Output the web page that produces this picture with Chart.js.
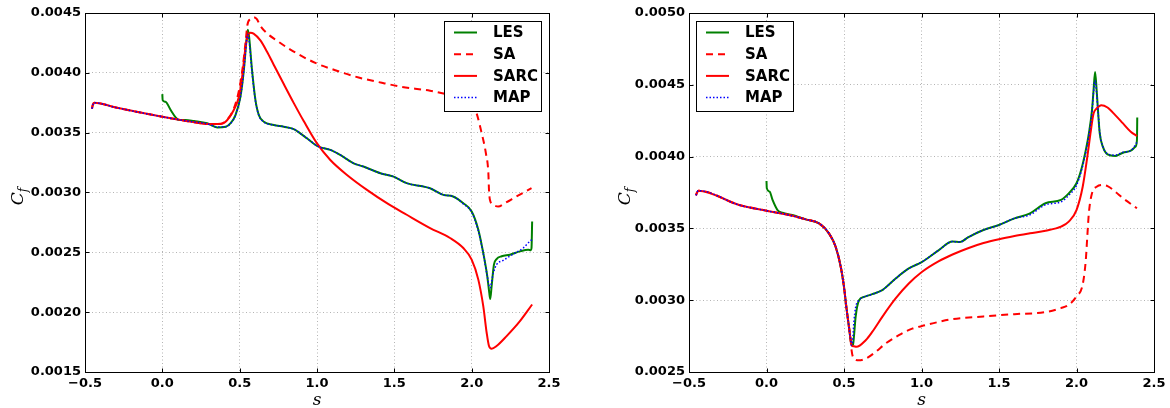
<!DOCTYPE html>
<html>
<head>
<meta charset="utf-8">
<script src="https://cdn.jsdelivr.net/npm/chart.js@4.4.0/dist/chart.umd.min.js"></script>
<style>
  body { margin: 0; background: #fff; }
  canvas.panel { position: absolute; top: 0; }
</style>
</head>
<body>
<canvas id="cfLeft" class="panel" width="585" height="408" style="left:0px"></canvas>
<canvas id="cfRight" class="panel" width="585" height="408" style="left:585px"></canvas>
<script>
// ---- tick positions ----
var sTicks = [-0.5, 0, 0.5, 1.0, 1.5, 2.0, 2.5];
var cfTicksLeft = [0.0015, 0.0020, 0.0025, 0.0030, 0.0035, 0.0040, 0.0045];
var cfTicksRight = [0.0025, 0.0030, 0.0035, 0.0040, 0.0045, 0.0050];

// ---- left case ----
var lesL_s  = [0, 0.002, 0.02, 0.054, 0.086, 0.107, 0.15, 0.204, 0.29, 0.355, 0.41, 0.44, 0.473, 0.505, 0.527, 0.544, 0.553, 0.561, 0.58, 0.602, 0.624, 0.656, 0.72, 0.785, 0.85, 0.892, 0.935, 1.01, 1.086, 1.15, 1.237, 1.3, 1.41, 1.495, 1.58, 1.688, 1.731, 1.817, 1.88, 1.946, 2.0, 2.043, 2.075, 2.101, 2.114, 2.12, 2.129, 2.144, 2.161, 2.194, 2.247, 2.312, 2.366, 2.383, 2.387, 2.391];
var lesL_cf = [0.003822, 0.003772, 0.003758, 0.003689, 0.003628, 0.003606, 0.003606, 0.003597, 0.003578, 0.003544, 0.00355, 0.003578, 0.003647, 0.0038, 0.004022, 0.004272, 0.004361, 0.0043, 0.004022, 0.003772, 0.003647, 0.003592, 0.003564, 0.00355, 0.00353, 0.003494, 0.003453, 0.003383, 0.003356, 0.003314, 0.003244, 0.003217, 0.003161, 0.003133, 0.003078, 0.00305, 0.003036, 0.00298, 0.002967, 0.002911, 0.002842, 0.002689, 0.002494, 0.0023, 0.002161, 0.002111, 0.002217, 0.002397, 0.002444, 0.002467, 0.00248, 0.002508, 0.002522, 0.002517, 0.002536, 0.002758];

var saL_s  = [-0.455, -0.45, -0.44, -0.3, -0.15, 0, 0.1, 0.2, 0.29, 0.376, 0.42, 0.462, 0.495, 0.52, 0.54, 0.55, 0.57, 0.59, 0.61, 0.634, 0.677, 0.738, 0.828, 0.989, 1.118, 1.269, 1.419, 1.548, 1.731, 1.9, 2.0, 2.032, 2.065, 2.092, 2.108, 2.112, 2.118, 2.14, 2.172, 2.215, 2.29, 2.387];
var saL_cf = [0.0037, 0.00373, 0.00375, 0.00371, 0.00367, 0.003633, 0.00361, 0.003588, 0.003572, 0.003575, 0.00361, 0.0037, 0.00385, 0.00405, 0.00428, 0.0044, 0.00445, 0.004465, 0.00445, 0.004392, 0.00433, 0.004272, 0.004194, 0.004083, 0.004022, 0.003961, 0.003917, 0.003883, 0.00385, 0.0038, 0.00375, 0.003661, 0.003494, 0.003328, 0.003161, 0.003022, 0.002939, 0.002897, 0.002883, 0.002911, 0.002967, 0.003036];

var sarcL_s  = [-0.455, -0.45, -0.44, -0.3, -0.15, 0, 0.1, 0.2, 0.29, 0.376, 0.42, 0.462, 0.495, 0.516, 0.538, 0.553, 0.57, 0.59, 0.634, 0.677, 0.72, 0.785, 0.85, 0.914, 1.0, 1.086, 1.194, 1.323, 1.452, 1.58, 1.731, 1.86, 1.946, 2.0, 2.043, 2.075, 2.097, 2.112, 2.129, 2.161, 2.226, 2.312, 2.391];
var sarcL_cf = [0.0037, 0.00373, 0.00375, 0.00371, 0.00367, 0.003633, 0.00361, 0.003588, 0.003572, 0.003572, 0.003606, 0.003689, 0.0038, 0.003967, 0.004217, 0.004314, 0.004336, 0.004328, 0.004271, 0.004176, 0.004068, 0.003906, 0.003747, 0.003597, 0.00341, 0.003272, 0.003147, 0.003022, 0.002911, 0.002814, 0.002703, 0.00262, 0.002536, 0.002439, 0.002272, 0.00205, 0.001828, 0.001717, 0.001694, 0.001717, 0.0018, 0.001925, 0.002064];

var mapL_s  = [-0.455, -0.45, -0.44, -0.3, -0.15, 0, 0.1, 0.2, 0.29, 0.355, 0.41, 0.44, 0.473, 0.505, 0.527, 0.544, 0.55, 0.558, 0.58, 0.602, 0.624, 0.656, 0.72, 0.785, 0.85, 0.892, 0.935, 1.01, 1.086, 1.15, 1.237, 1.3, 1.41, 1.495, 1.58, 1.688, 1.731, 1.817, 1.88, 1.946, 2.0, 2.043, 2.075, 2.101, 2.118, 2.14, 2.161, 2.204, 2.269, 2.333, 2.376, 2.39];
var mapL_cf = [0.0037, 0.00373, 0.00375, 0.00371, 0.00367, 0.003633, 0.00361, 0.00359, 0.003575, 0.003548, 0.00355, 0.003575, 0.003645, 0.0038, 0.00402, 0.00426, 0.00432, 0.0043, 0.004005, 0.003765, 0.003645, 0.00359, 0.003564, 0.00355, 0.00353, 0.003494, 0.003453, 0.003383, 0.003356, 0.003314, 0.003244, 0.003217, 0.003161, 0.003133, 0.003078, 0.00305, 0.003036, 0.00298, 0.002967, 0.002905, 0.002835, 0.00268, 0.00249, 0.0023, 0.002203, 0.002328, 0.002397, 0.002433, 0.002486, 0.002536, 0.002592, 0.002606];

// ---- right case ----
var lesR_s  = [0, 0.002, 0.02, 0.039, 0.071, 0.103, 0.167, 0.2, 0.253, 0.339, 0.403, 0.446, 0.479, 0.5, 0.515, 0.532, 0.543, 0.55, 0.558, 0.564, 0.575, 0.597, 0.629, 0.682, 0.747, 0.833, 0.918, 1.004, 1.112, 1.2, 1.25, 1.3, 1.4, 1.5, 1.6, 1.7, 1.8, 1.9, 1.95, 2.0, 2.03, 2.06, 2.08, 2.1, 2.11, 2.12, 2.13, 2.14, 2.15, 2.17, 2.2, 2.25, 2.3, 2.35, 2.38, 2.39, 2.392];
var lesR_cf = [0.00383, 0.003779, 0.003756, 0.003698, 0.003628, 0.003609, 0.003593, 0.003582, 0.003563, 0.003535, 0.003465, 0.003372, 0.003233, 0.003093, 0.002953, 0.002814, 0.002721, 0.002686, 0.00269, 0.002744, 0.002884, 0.003, 0.003023, 0.003042, 0.00307, 0.003151, 0.003221, 0.003267, 0.003349, 0.003408, 0.003405, 0.003438, 0.003489, 0.003524, 0.00357, 0.003605, 0.003675, 0.003698, 0.003744, 0.003814, 0.003906, 0.004045, 0.004161, 0.004323, 0.004462, 0.00459, 0.004462, 0.0043, 0.004161, 0.004069, 0.004015, 0.004004, 0.004027, 0.004041, 0.004069, 0.004115, 0.004273];

var saR_s  = [-0.455, -0.45, -0.44, -0.176, 0, 0.146, 0.253, 0.339, 0.403, 0.446, 0.479, 0.5, 0.515, 0.532, 0.543, 0.549, 0.558, 0.597, 0.64, 0.704, 0.768, 0.854, 0.94, 1.026, 1.112, 1.2, 1.4, 1.6, 1.8, 1.9, 1.95, 2.0, 2.04, 2.06, 2.07, 2.08, 2.1, 2.13, 2.17, 2.2, 2.25, 2.3, 2.39];
var saR_cf = [0.00373, 0.003745, 0.003763, 0.003663, 0.003623, 0.003593, 0.003563, 0.003535, 0.003465, 0.003372, 0.003233, 0.003093, 0.002953, 0.002814, 0.002721, 0.00265, 0.002605, 0.002581, 0.002593, 0.00264, 0.002698, 0.002756, 0.002802, 0.002826, 0.002849, 0.002868, 0.002887, 0.002903, 0.002917, 0.002945, 0.002968, 0.003026, 0.00311, 0.00328, 0.00345, 0.00361, 0.003744, 0.00379, 0.003802, 0.003795, 0.003756, 0.00371, 0.00364];

var sarcR_s  = [-0.455, -0.45, -0.44, -0.176, 0, 0.146, 0.253, 0.339, 0.403, 0.446, 0.479, 0.5, 0.515, 0.532, 0.543, 0.549, 0.564, 0.58, 0.64, 0.682, 0.747, 0.833, 0.918, 1.004, 1.112, 1.2, 1.3, 1.4, 1.5, 1.6, 1.7, 1.8, 1.9, 1.95, 2.0, 2.04, 2.07, 2.09, 2.11, 2.13, 2.16, 2.2, 2.25, 2.3, 2.35, 2.39];
var sarcR_cf = [0.00373, 0.003745, 0.003763, 0.003663, 0.003623, 0.003593, 0.003563, 0.003535, 0.003465, 0.003372, 0.003233, 0.003093, 0.002953, 0.002814, 0.002721, 0.002686, 0.002679, 0.002675, 0.002721, 0.002779, 0.002884, 0.003012, 0.003116, 0.003198, 0.003272, 0.003318, 0.003362, 0.003398, 0.003425, 0.003447, 0.003466, 0.003484, 0.003512, 0.003547, 0.003628, 0.00379, 0.004, 0.004161, 0.0043, 0.004335, 0.004358, 0.004342, 0.004289, 0.004231, 0.004173, 0.004143];

var mapR_s  = [-0.455, -0.45, -0.44, -0.176, 0, 0.146, 0.253, 0.339, 0.403, 0.446, 0.479, 0.5, 0.515, 0.532, 0.543, 0.549, 0.556, 0.564, 0.575, 0.597, 0.629, 0.682, 0.747, 0.833, 0.918, 1.004, 1.112, 1.2, 1.25, 1.3, 1.4, 1.5, 1.6, 1.7, 1.8, 1.9, 1.95, 2.0, 2.03, 2.06, 2.08, 2.1, 2.11, 2.12, 2.13, 2.14, 2.15, 2.17, 2.2, 2.25, 2.3, 2.35, 2.39];
var mapR_cf = [0.00373, 0.003745, 0.003763, 0.003663, 0.003623, 0.003593, 0.003563, 0.003535, 0.003465, 0.003372, 0.003233, 0.003093, 0.002953, 0.002814, 0.002721, 0.002686, 0.00272, 0.00285, 0.00295, 0.003, 0.003023, 0.003042, 0.00307, 0.003151, 0.003221, 0.003267, 0.003349, 0.003408, 0.003405, 0.003438, 0.003489, 0.003524, 0.00357, 0.003595, 0.003665, 0.003685, 0.00373, 0.0038, 0.003895, 0.00403, 0.00415, 0.00431, 0.00445, 0.00453, 0.00444, 0.0043, 0.00417, 0.00407, 0.00402, 0.00401, 0.00403, 0.00404, 0.0041];

var seriesNames = ['LES', 'SA', 'SARC', 'MAP'];

function pts(xs, ys) {
  return xs.map(function(x, i) { return { x: x, y: ys[i] }; });
}

function lineSet(label, xs, ys, color, width, dash, order) {
  return {
    label: label,
    data: pts(xs, ys),
    borderColor: color,
    borderWidth: width,
    borderDash: dash,
    pointRadius: 0,
    fill: false,
    cubicInterpolationMode: 'monotone',
    order: order
  };
}

// box, inward ticks, axis titles and the boxed legend
var axesFrame = {
  id: 'axesFrame',
  afterDraw: function(chart, args, opts) {
    var ctx = chart.ctx, a = chart.chartArea;
    var xs = chart.scales.x, ys = chart.scales.y;
    var L = Math.round(a.left) + 0.5, R = Math.round(a.right) + 0.5;
    var T = Math.round(a.top) + 0.5, B = Math.round(a.bottom) + 0.5;
    ctx.save();
    ctx.strokeStyle = '#000';
    ctx.lineWidth = 1;
    ctx.setLineDash([]);
    ctx.beginPath();
    xs.ticks.forEach(function(t) {
      var px = Math.round(xs.getPixelForValue(t.value)) + 0.5;
      ctx.moveTo(px, B); ctx.lineTo(px, B - 4);
      ctx.moveTo(px, T); ctx.lineTo(px, T + 4);
    });
    ys.ticks.forEach(function(t) {
      var py = Math.round(ys.getPixelForValue(t.value)) + 0.5;
      ctx.moveTo(L, py); ctx.lineTo(L + 4, py);
      ctx.moveTo(R, py); ctx.lineTo(R - 4, py);
    });
    ctx.stroke();
    ctx.strokeRect(L, T, R - L, B - T);

    // x title
    ctx.fillStyle = '#000';
    ctx.font = 'italic 17px "DejaVu Serif"';
    ctx.textAlign = 'center';
    ctx.textBaseline = 'alphabetic';
    ctx.fillText('s', (a.left + a.right) / 2, 405);

    // y title C_f
    ctx.save();
    ctx.translate(opts.yTitleX, (a.top + a.bottom) / 2 + 4);
    ctx.rotate(-Math.PI / 2);
    ctx.font = 'italic 17px "DejaVu Serif"';
    var wc = ctx.measureText('C').width;
    ctx.font = 'italic 12px "DejaVu Serif"';
    var wf = ctx.measureText('f').width;
    var x0 = -(wc + wf) / 2;
    ctx.textAlign = 'left';
    ctx.font = 'italic 17px "DejaVu Serif"';
    ctx.fillText('C', x0, 6);
    ctx.font = 'italic 12px "DejaVu Serif"';
    ctx.fillText('f', x0 + wc, 10);
    ctx.restore();

    // legend
    var lg = opts.legend;
    ctx.fillStyle = '#fff';
    ctx.fillRect(lg.x, lg.y, lg.w, lg.h);
    ctx.strokeStyle = '#000';
    ctx.lineWidth = 1;
    ctx.strokeRect(lg.x + 0.5, lg.y + 0.5, lg.w, lg.h);
    ctx.font = 'bold 15px "DejaVu Sans"';
    ctx.textAlign = 'left';
    ctx.textBaseline = 'middle';
    chart.data.datasets.forEach(function(ds, i) {
      var ry = lg.y + 11.5 + i * 21.7;
      ctx.beginPath();
      ctx.strokeStyle = ds.borderColor;
      ctx.lineWidth = ds.borderWidth;
      ctx.setLineDash(ds.borderDash || []);
      ctx.moveTo(lg.x + 10, ry);
      ctx.lineTo(lg.x + 33, ry);
      ctx.stroke();
      ctx.setLineDash([]);
      ctx.fillStyle = '#000';
      ctx.fillText(ds.label, lg.x + 49, ry + 1);
    });
    ctx.restore();
  }
};

function buildChart(id, datasets, yTicks, yMin, yMax, axisWidth, padRight, legendBox, yTitleX) {
  var tickFont = { family: 'DejaVu Sans', size: 13, weight: 'bold' };
  return new Chart(document.getElementById(id), {
    type: 'line',
    data: { datasets: datasets },
    options: {
      responsive: false,
      animation: false,
      devicePixelRatio: 1,
      layout: { padding: { left: 0, right: padRight, top: 13, bottom: 0 } },
      plugins: {
        legend: { display: false },
        tooltip: { enabled: false },
        axesFrame: { legend: legendBox, yTitleX: yTitleX }
      },
      scales: {
        x: {
          type: 'linear',
          min: -0.5, max: 2.5,
          afterBuildTicks: function(s) { s.ticks = sTicks.map(function(v) { return { value: v }; }); },
          afterFit: function(s) { s.height = 36; },
          grid: { color: '#b4b4b4', lineWidth: 1, drawTicks: false },
          border: { display: false, dash: [1, 2.5] },
          ticks: {
            color: '#000', font: tickFont, padding: 4, maxRotation: 0, autoSkip: false,
            callback: function(v) { return v.toFixed(1).replace('-', '\u2212'); }
          }
        },
        y: {
          type: 'linear',
          min: yMin, max: yMax,
          afterBuildTicks: function(s) { s.ticks = yTicks.map(function(v) { return { value: v }; }); },
          afterFit: function(s) { s.width = axisWidth; },
          grid: { color: '#b4b4b4', lineWidth: 1, drawTicks: false },
          border: { display: false, dash: [1, 2.5] },
          ticks: {
            color: '#000', font: tickFont, padding: 4, autoSkip: false,
            callback: function(v) { return v.toFixed(4); }
          }
        }
      }
    },
    plugins: [axesFrame]
  });
}

function caseSets(les, sa, sarc, map) {
  return [
    lineSet(seriesNames[0], les[0], les[1], '#008000', 2, [], 3),
    lineSet(seriesNames[1], sa[0], sa[1], '#ff0000', 2, [7, 5], 2),
    lineSet(seriesNames[2], sarc[0], sarc[1], '#ff0000', 2, [], 1),
    lineSet(seriesNames[3], map[0], map[1], '#0000ff', 1.5, [1.5, 2], 0)
  ];
}

buildChart('cfLeft',
  caseSets([lesL_s, lesL_cf], [saL_s, saL_cf], [sarcL_s, sarcL_cf], [mapL_s, mapL_cf]),
  cfTicksLeft, 0.0015, 0.0045, 85, 36,
  { x: 444, y: 21, w: 97, h: 90 }, 17);

buildChart('cfRight',
  caseSets([lesR_s, lesR_cf], [saR_s, saR_cf], [sarcR_s, sarcR_cf], [mapR_s, mapR_cf]),
  cfTicksRight, 0.0025, 0.0050, 104, 16,
  { x: 111, y: 21, w: 97, h: 90 }, 39);
</script>
</body>
</html>
